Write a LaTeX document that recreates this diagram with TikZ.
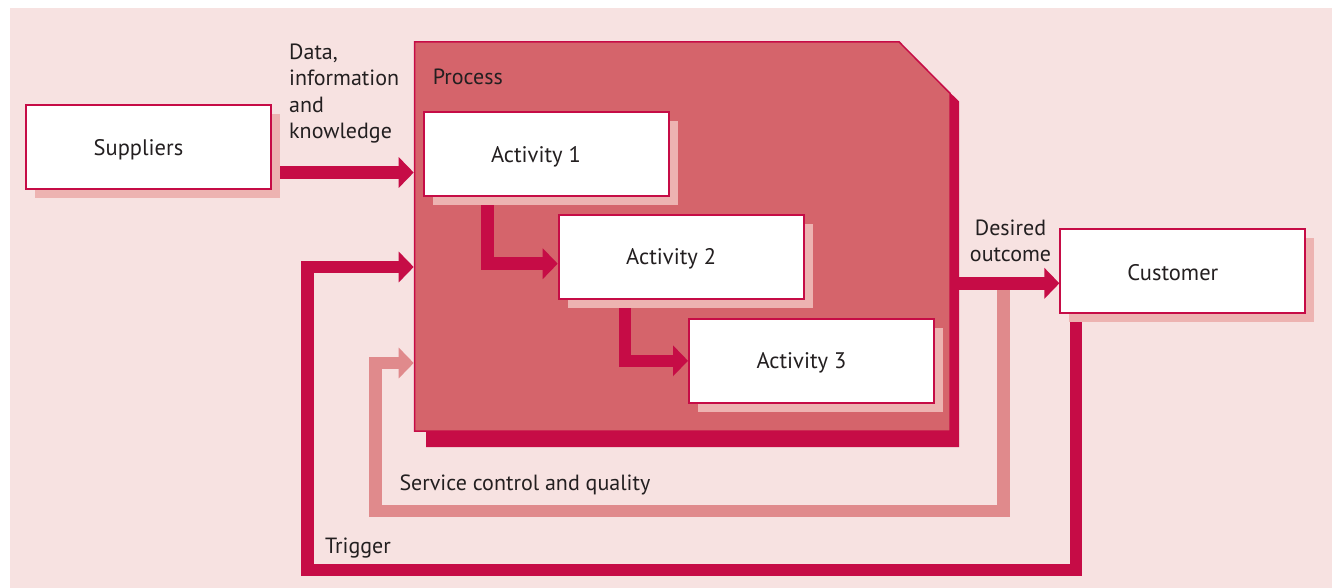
\documentclass[tikz,border=0pt]{standalone}
\usepackage{fontspec}
\setmainfont{PT Sans}
\usetikzlibrary{arrows.meta,calc,shadows}
\definecolor{bgpink}{HTML}{F7E2E1}
\definecolor{procfill}{HTML}{D5646B}
\definecolor{crim}{HTML}{C60C46}
\definecolor{lshadow}{HTML}{EDB3B1}
\definecolor{lightarrow}{HTML}{E08A8C}
\definecolor{txt}{HTML}{231F20}
\pgfdeclarelayer{bg}
\pgfdeclarelayer{mid}
\pgfsetlayers{bg,mid,main}
\newcommand{\boxtext}[1]{\hspace*{-20pt}\raisebox{-2.5pt}[\height][\depth]{#1}}
\tikzset{
  box/.style={draw=crim, line width=2pt, fill=white, minimum width=245pt,
    minimum height=84pt, inner sep=0pt, text=txt,
    font=\fontsize{22.5}{26.5}\selectfont,
    drop shadow={shadow xshift=9pt, shadow yshift=-9pt, fill=lshadow, opacity=1}},
  lbl/.style={inner sep=0pt, text=txt, font=\fontsize{22}{26.5}\selectfont},
  flow/.style={draw=crim, line width=12.5pt, line join=miter,
    -{Triangle[length=15pt,width=30pt]}},
  procshape/.style={draw=crim, line width=1.5pt, fill=procfill},
}
\begin{document}
\begin{tikzpicture}[x=1pt,y=-1pt]
\useasboundingbox (0,0) rectangle (1332,588);
\begin{pgfonlayer}{bg}
  \fill[bgpink] (10,8) rectangle (1332,588);
  \fill[crim] (426,431) -- (426,447) -- (959,447) -- (959,101.3) -- (950.7,93.3) -- (950.7,431) -- cycle;
  \draw[procshape] (414.5,41.8) -- (899,41.8) -- (950,93.3) -- (950,431) -- (414.5,431) -- cycle;
\end{pgfonlayer}
\coordinate (pIn1) at (413.7,172.5);
\coordinate (pIn2) at (413.7,267);
\coordinate (pIn3) at (413.7,363);
\coordinate (pOut) at (959,283.3);
\coordinate (trigBL) at (307.5,570);
\coordinate (servBL) at (375.3,511);
\coordinate (servR) at (1003.5,283.3);

\node[box] (sup) at (148.5,147) {\boxtext{Suppliers}};
\node[box] (act1) at (546,154.2) {\boxtext{Activity 1}};
\node[box] (act2) at (681.2,256.7) {\boxtext{Activity 2}};
\node[box] (act3) at (811.5,360.8) {\boxtext{Activity 3}};
\node[box] (cust) at (1182.9,270.5) {\boxtext{Customer}};

\begin{pgfonlayer}{mid}
  \draw[flow] (sup.east |- pIn1) -- (pIn1);
  \draw[flow] ($(act1.south west)+(64.8,0)$) |- ($(act2.west)+(0,7)$);
  \draw[flow] ($(act2.south west)+(67.4,0)$) |- (act3.west);
  \draw[flow, draw=lightarrow] (servR) |- (servBL) |- (pIn3);
  \draw[flow] (pOut) -- (cust.west |- pOut);
  \draw[flow] ($(cust.south west)+(16.7,0)$) |- (trigBL) |- (pIn2);
\end{pgfonlayer}

\node[lbl, anchor=base west, align=left] (dlbl) at (289,139) {Data,\\information\\and\\knowledge};
\node[lbl, anchor=base west] (plbl) at (432.7,85) {Process};
\node[lbl, anchor=base, align=center] (olbl) at (1010.5,261.7) {Desired\\outcome};
\node[lbl, anchor=base west] (slbl) at (399.3,490) {Service control and quality};
\node[lbl, anchor=base west] (tlbl) at (325,553.3) {Trigger};
\end{tikzpicture}
\end{document}
